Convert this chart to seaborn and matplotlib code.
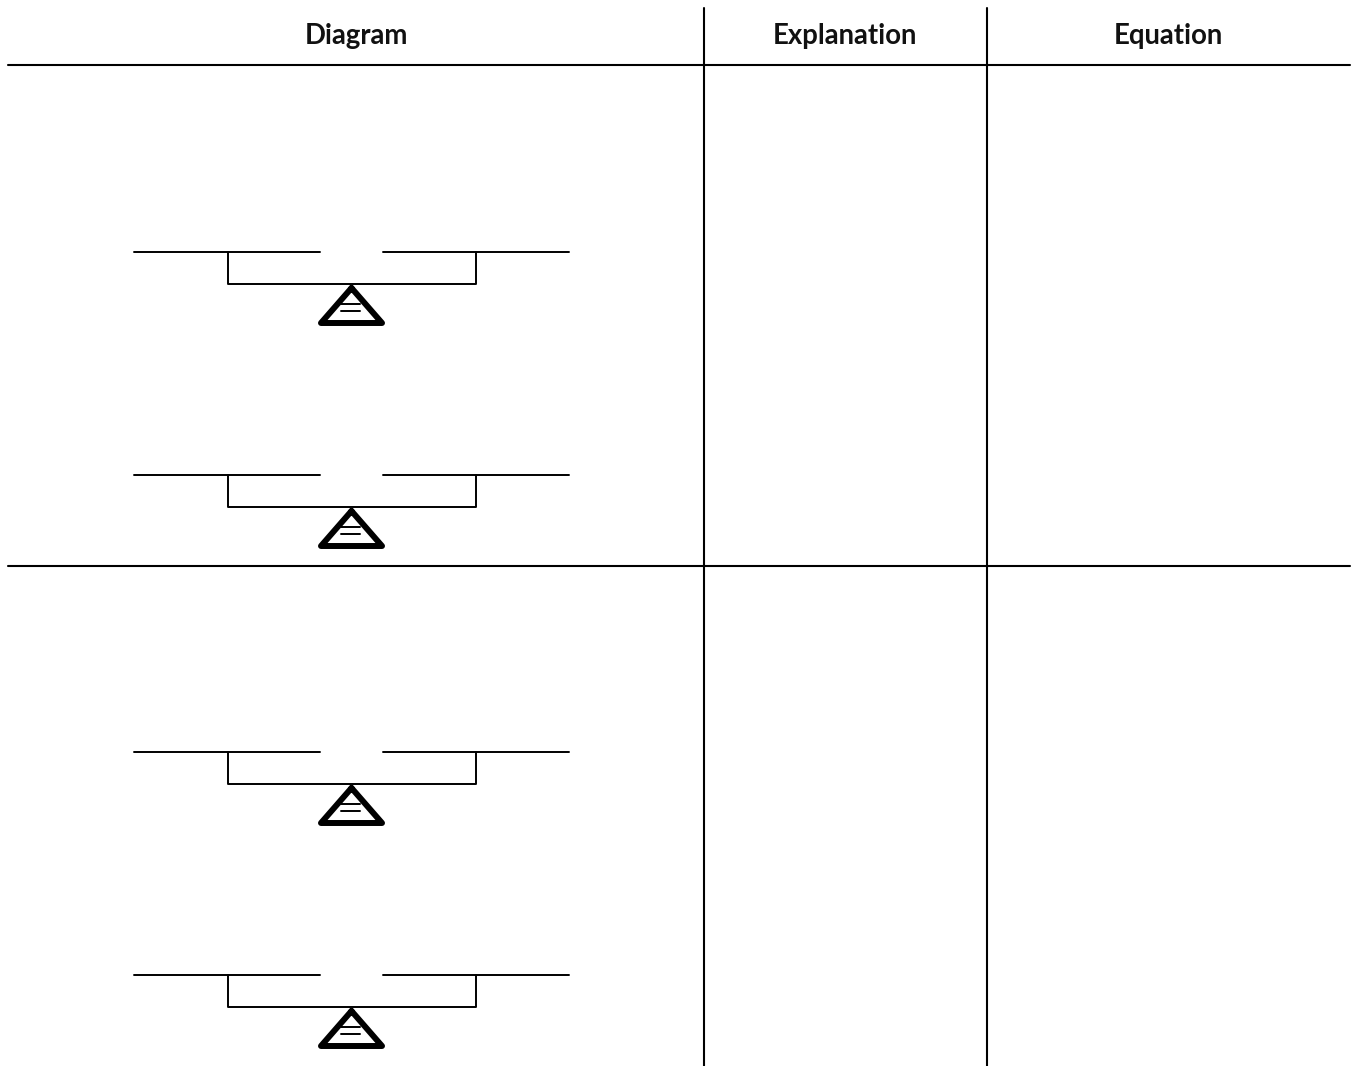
# balance diagram table

import numpy as np
import pandas as pd

import matplotlib.pyplot as plt
import seaborn as sns


# ============================================================
# DATA (reference pixels)
# ============================================================

HEADERS = ["Diagram", "Explanation", "Equation"]
HEADER_X = [356, 845, 1168]
HEADER_Y = 36

COLUMN_RULES_X = [704, 987]
COLUMN_RULES_Y = [8, 1066]
ROW_RULES_Y = [65, 566]
ROW_RULES_X = [8, 1350]

# y position of the pans of each balance
BALANCE_Y = [252, 475, 752, 975]

LEFT_PAN_X = [134, 320]
RIGHT_PAN_X = [383, 569]
ARM_X = [228, 228, 476, 476]
ARM_DY = [0, 32, 32, 0]

TRIANGLE_X = [351.5, 321, 382, 351.5]
TRIANGLE_DY = [36, 71, 71, 36]
EQUALS_X = [341, 360]
EQUALS_DY = [52, 59]


# ============================================================
# BUILD SEGMENTS
# ============================================================

def add_seg(rows, name, xs, ys):
    for x, y in zip(xs, ys):
        rows.append({"seg": name, "x": x, "y": y})


thin = []
rules = []
thick = []

for x in COLUMN_RULES_X:
    add_seg(rules, f"col{x}", [x, x], COLUMN_RULES_Y)
for y in ROW_RULES_Y:
    add_seg(rules, f"row{y}", ROW_RULES_X, [y, y])

for b in BALANCE_Y:
    add_seg(thin, f"{b}left", LEFT_PAN_X, [b, b])
    add_seg(thin, f"{b}right", RIGHT_PAN_X, [b, b])
    add_seg(thin, f"{b}arm", ARM_X, [b + d for d in ARM_DY])
    for d in EQUALS_DY:
        add_seg(thin, f"{b}eq{d}", EQUALS_X, [b + d, b + d])
    add_seg(thick, f"{b}tri", TRIANGLE_X, [b + d for d in TRIANGLE_DY])

thin = pd.DataFrame(thin)
rules = pd.DataFrame(rules)
thick = pd.DataFrame(thick)


# ============================================================
# PLOT
# ============================================================

sns.set_theme(style="white")
plt.rcParams["font.family"] = ["Lato", "DejaVu Sans"]

fig, ax = plt.subplots(figsize=(13.57, 10.66), dpi=100)
ax.set_position([0, 0, 1, 1])

for data, lw in [(rules, 1.5), (thin, 1.4), (thick, 4.3)]:
    sns.lineplot(
        data=data,
        x="x",
        y="y",
        units="seg",
        estimator=None,
        sort=False,
        color="black",
        linewidth=lw,
        solid_joinstyle="round",
        ax=ax
    )

for label, x in zip(HEADERS, HEADER_X):
    ax.text(
        x,
        HEADER_Y,
        label,
        ha="center",
        va="center",
        fontsize=19.8,
        fontweight="bold",
        color="#111111"
    )

ax.set_xlim(0, 1357)
ax.set_ylim(1066, 0)
ax.axis("off")

plt.savefig("out.png", dpi=100)
